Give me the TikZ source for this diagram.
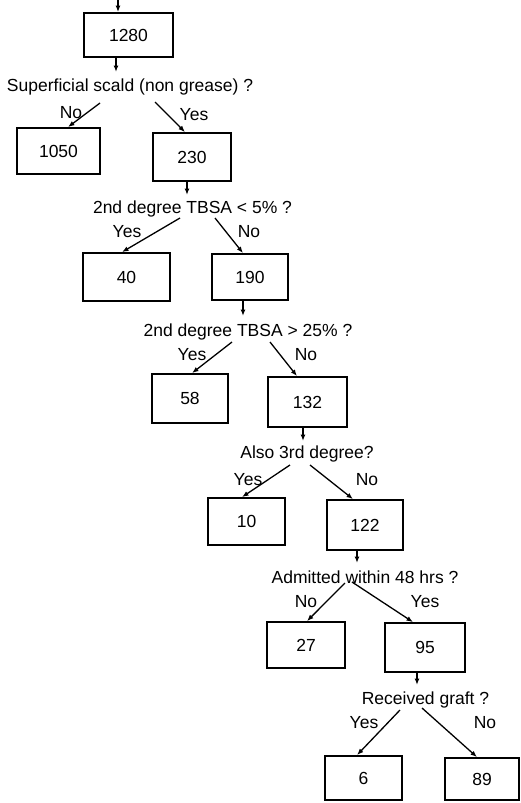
\documentclass[tikz,border=0pt]{standalone}
\usepackage{fontspec}
\setmainfont{Liberation Sans}
\usepackage{tikz}
\usetikzlibrary{arrows.meta}

\tikzset{
  box/.style={draw, line width=1.8pt, minimum width=77pt, minimum height=47pt, inner sep=0pt},
  ask/.style={inner sep=2pt},
  arr/.style={-{Latex[length=6.5pt,width=5pt]}, line width=1.3pt}
}

\begin{document}
\begin{tikzpicture}[x=1pt, y=-1pt, font=\fontsize{17.5}{20}\selectfont]
    \useasboundingbox (0,0) rectangle (520,803);

    % 1. Cac hop so lieu
    \foreach \n/\x/\y/\w/\h in {1280/128.5/35/89/44, 1050/58.5/151/83/46, 230/192/157/78/48,
        40/126.5/277/87/48, 190/250/277/76/46, 58/190/398.5/76/49, 132/307.5/402/79/50,
        10/246.5/521.5/77/47, 122/365/525/76/50, 27/306/645/78/46, 95/425/647.5/80/49,
        6/363.5/778/77/44, 89/482/779/74/42}
        \node[box, minimum width=\w pt, minimum height=\h pt] (b\n) at (\x,\y) {\n};

    % 2. Cac cau hoi
    \node[ask] (q1) at (130,87) {Superficial scald (non grease) ?};
    \node[ask] (q2) at (192.5,209) {2nd degree TBSA < 5\% ?};
    \node[ask] (q3) at (248,332) {2nd degree TBSA > 25\% ?};
    \node[ask] (q4) at (307,454) {Also 3rd degree?};
    \node[ask] (q5) at (365,577) {Admitted within 48 hrs ?};
    \node[ask] (q6) at (425.5,700) {Received graft ?};

    % Nhan Yes / No
    \foreach \t/\x/\y/\m in {No/71/113/n1, Yes/194/115/y1, Yes/127/232/y2, No/249/232/n2,
        Yes/192/355/y3, No/306/355/n3, Yes/248/480/y4, No/367/480/n4,
        No/306/602/n5, Yes/425/602/y5, Yes/364/723/y6, No/485/723/n6}
        \node[inner sep=0pt] (\m) at (\x,\y) {\t};

    % 3. Mui ten doc
    \coordinate (t0) at (118,0);
    \draw[arr] (t0) -- (t0 |- b1280.north);
    \coordinate (t1) at (116,72);
    \coordinate (t2) at (187,195);
    \coordinate (t3) at (243,316);
    \coordinate (t4) at (303,441);
    \coordinate (t5) at (357,563);
    \coordinate (t6) at (417,685);
    \foreach \b/\t in {b1280/t1, b230/t2, b190/t3, b132/t4, b122/t5, b95/t6}
        \draw[arr] (\b.south -| \t) -- (\t);

    % 4. Nhanh re
    \coordinate (q1l) at (100,103);  \coordinate (q1r) at (155,102);
    \coordinate (q2l) at (180,218);  \coordinate (q2r) at (215,218);
    \coordinate (q3l) at (232,342);  \coordinate (q3r) at (270,342);
    \coordinate (q4l) at (290,465);  \coordinate (q4r) at (310,465);
    \coordinate (q5l) at (345,583);  \coordinate (q5r) at (352,582);
    \coordinate (q6l) at (400,710);  \coordinate (q6r) at (422,708);
    \foreach \s/\b/\dx in {q1l/b1050/9.5, q1r/b230/-7, q2l/b40/-4.5, q2r/b190/-7,
        q3l/b58/2, q3r/b132/-10.5, q4l/b10/-4.5, q4r/b122/-12,
        q5l/b27/1, q5r/b95/-12, q6l/b6/-6.5, q6r/b89/-5}
        \draw[arr] (\s) -- ([xshift=\dx pt]\b.north);

\end{tikzpicture}
\end{document}
